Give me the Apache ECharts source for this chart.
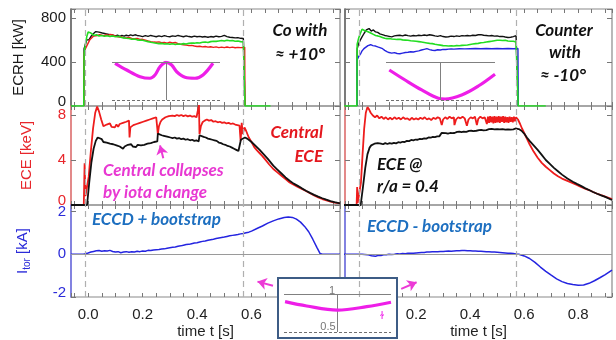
<!DOCTYPE html>
<html>
<head>
<meta charset="utf-8">
<script src="https://cdn.jsdelivr.net/npm/echarts@6.0.0/dist/echarts.min.js"></script>
<style>
  html, body { margin: 0; padding: 0; background: #fff; }
  #chart { width: 616px; height: 340px; }
</style>
</head>
<body>
<div id="chart"></div>
<script>
// ---- data: [time s, value] ----
const ecrhCoBlack = [[-0.016,0],[-0.015,520],[-0.01,560],[-0.005,600],[0.003,600],[0.01,630],[0.02,657],[0.028,675],[0.034,690],[0.04,670],[0.046,680],[0.052,662],[0.058,670],[0.064,655],[0.07,662],[0.076,650],[0.082,658],[0.088,645],[0.094,650],[0.1,636],[0.108,642],[0.116,632],[0.124,640],[0.132,634],[0.14,642],[0.148,636],[0.156,645],[0.164,638],[0.172,646],[0.18,640],[0.19,636],[0.2,630],[0.21,638],[0.22,632],[0.23,640],[0.24,634],[0.25,628],[0.26,636],[0.27,630],[0.28,638],[0.29,632],[0.3,628],[0.31,636],[0.32,632],[0.33,640],[0.34,634],[0.35,628],[0.36,636],[0.37,630],[0.38,626],[0.39,634],[0.4,628],[0.41,632],[0.42,626],[0.43,630],[0.44,624],[0.45,630],[0.46,626],[0.47,634],[0.48,628],[0.49,632],[0.5,640],[0.51,630],[0.52,624],[0.53,622],[0.54,618],[0.55,620],[0.56,614],[0.57,612],[0.575,608],[0.576,0]];
const ecrhCoRed = [[-0.016,0],[-0.015,480],[-0.01,520],[-0.005,545],[0,560],[0.006,600],[0.012,615],[0.02,635],[0.027,648],[0.034,640],[0.042,648],[0.05,642],[0.058,638],[0.066,646],[0.074,640],[0.082,650],[0.09,645],[0.098,636],[0.106,630],[0.114,625],[0.122,628],[0.13,620],[0.14,618],[0.15,622],[0.16,614],[0.17,610],[0.18,612],[0.19,604],[0.2,605],[0.21,598],[0.22,590],[0.23,584],[0.24,580],[0.25,578],[0.26,582],[0.27,574],[0.28,576],[0.29,570],[0.3,578],[0.31,572],[0.32,576],[0.33,566],[0.34,560],[0.35,556],[0.36,552],[0.37,548],[0.38,550],[0.39,544],[0.4,540],[0.41,542],[0.42,536],[0.43,540],[0.44,534],[0.45,538],[0.46,532],[0.47,536],[0.48,530],[0.49,534],[0.5,530],[0.51,535],[0.52,530],[0.53,534],[0.54,528],[0.55,532],[0.56,530],[0.575,532],[0.576,0]];
const ecrhCoGreen = [[-0.063,0],[-0.016,0],[-0.015,470],[-0.01,560],[-0.005,630],[0,672],[0.004,680],[0.01,662],[0.016,650],[0.022,640],[0.03,646],[0.04,636],[0.05,640],[0.06,632],[0.07,638],[0.08,630],[0.09,636],[0.1,628],[0.11,632],[0.12,624],[0.13,618],[0.14,614],[0.15,612],[0.16,606],[0.17,608],[0.18,600],[0.19,598],[0.2,596],[0.21,590],[0.22,584],[0.23,578],[0.24,574],[0.25,570],[0.26,566],[0.27,568],[0.28,562],[0.29,564],[0.3,560],[0.31,564],[0.32,558],[0.33,562],[0.34,560],[0.35,566],[0.36,562],[0.37,568],[0.38,572],[0.39,570],[0.4,574],[0.41,572],[0.42,578],[0.43,580],[0.44,576],[0.45,584],[0.46,588],[0.47,586],[0.48,590],[0.49,594],[0.5,590],[0.51,596],[0.52,592],[0.53,594],[0.54,588],[0.55,590],[0.56,584],[0.57,582],[0.575,580],[0.576,0],[0.67,0]];

const ecrhCtrBlack = [[-0.019,0],[-0.018,520],[-0.012,570],[-0.006,600],[0,627],[0.008,660],[0.016,690],[0.026,703],[0.034,680],[0.042,690],[0.05,672],[0.058,668],[0.066,655],[0.075,648],[0.084,640],[0.092,636],[0.1,632],[0.11,627],[0.12,636],[0.13,640],[0.14,642],[0.15,636],[0.16,644],[0.17,638],[0.18,634],[0.19,640],[0.2,636],[0.21,642],[0.22,638],[0.23,644],[0.24,640],[0.25,646],[0.26,642],[0.27,636],[0.28,632],[0.29,638],[0.3,630],[0.31,626],[0.32,628],[0.33,634],[0.34,630],[0.35,636],[0.36,632],[0.37,638],[0.38,636],[0.39,640],[0.4,636],[0.41,642],[0.42,640],[0.43,646],[0.44,648],[0.45,642],[0.46,640],[0.47,636],[0.48,640],[0.49,634],[0.5,636],[0.51,630],[0.52,632],[0.53,626],[0.54,622],[0.55,624],[0.56,630],[0.57,638],[0.577,630],[0.578,0]];
const ecrhCtrBlue = [[-0.019,0],[-0.018,420],[-0.012,450],[-0.006,470],[0,500],[0.007,520],[0.014,535],[0.022,548],[0.032,556],[0.04,548],[0.05,544],[0.058,536],[0.066,530],[0.076,520],[0.084,505],[0.092,494],[0.1,485],[0.11,480],[0.12,484],[0.13,476],[0.14,474],[0.15,480],[0.16,485],[0.17,488],[0.18,492],[0.19,490],[0.2,496],[0.21,500],[0.22,508],[0.23,514],[0.24,520],[0.25,512],[0.26,506],[0.27,504],[0.28,510],[0.29,508],[0.3,514],[0.31,512],[0.32,516],[0.33,518],[0.34,516],[0.36,520],[0.38,518],[0.4,520],[0.42,522],[0.44,520],[0.46,522],[0.48,520],[0.5,522],[0.52,520],[0.54,522],[0.56,520],[0.577,522],[0.578,0]];
const ecrhCtrGreen = [[-0.067,0],[-0.019,0],[-0.018,560],[-0.012,620],[-0.006,660],[0,697],[0.006,690],[0.012,680],[0.02,676],[0.026,672],[0.034,660],[0.042,650],[0.05,640],[0.058,636],[0.066,630],[0.075,622],[0.084,614],[0.092,611],[0.1,612],[0.11,608],[0.12,606],[0.13,604],[0.14,605],[0.15,600],[0.16,598],[0.17,596],[0.18,592],[0.19,590],[0.2,587],[0.21,584],[0.22,580],[0.23,576],[0.24,572],[0.25,568],[0.26,566],[0.27,560],[0.28,556],[0.29,552],[0.3,548],[0.31,546],[0.32,544],[0.33,546],[0.34,545],[0.35,548],[0.36,546],[0.37,550],[0.38,551],[0.39,554],[0.4,558],[0.41,562],[0.42,566],[0.43,568],[0.44,574],[0.45,576],[0.46,580],[0.47,584],[0.48,588],[0.49,592],[0.5,596],[0.51,597],[0.52,594],[0.53,596],[0.54,590],[0.55,588],[0.56,587],[0.57,580],[0.577,575],[0.578,0],[0.68,0]];

const eceCoRed = [[-0.063,0],[-0.016,0],[-0.013,3.7],[-0.01,0.8],[-0.004,0.8],[0.002,2.5],[0.01,4.8],[0.018,6.8],[0.026,8.2],[0.033,8.75],[0.04,8.3],[0.048,7.6],[0.056,7.0],[0.062,6.85],[0.068,7.15],[0.074,7.0],[0.08,7.25],[0.086,6.95],[0.092,7.1],[0.098,6.9],[0.104,7.15],[0.11,6.95],[0.116,7.2],[0.122,7.1],[0.128,7.3],[0.134,7.2],[0.14,7.4],[0.146,7.35],[0.15,7.5],[0.152,6.0],[0.155,6.9],[0.16,7.0],[0.166,7.1],[0.172,7.05],[0.178,7.2],[0.184,7.15],[0.19,7.3],[0.196,7.25],[0.202,7.4],[0.208,7.35],[0.214,7.5],[0.22,7.45],[0.226,7.6],[0.232,7.55],[0.238,7.7],[0.244,7.65],[0.25,7.8],[0.254,7.75],[0.256,6.3],[0.26,7.0],[0.266,7.4],[0.272,7.6],[0.278,7.7],[0.284,7.8],[0.29,7.75],[0.296,7.9],[0.302,7.85],[0.31,7.95],[0.318,7.9],[0.326,8.0],[0.334,7.92],[0.342,8.0],[0.35,7.9],[0.358,7.98],[0.366,7.88],[0.374,7.95],[0.382,7.85],[0.39,7.9],[0.398,7.8],[0.405,7.85],[0.407,8.9],[0.409,6.3],[0.414,7.0],[0.42,7.35],[0.428,7.5],[0.436,7.6],[0.444,7.5],[0.452,7.55],[0.46,7.4],[0.468,7.45],[0.476,7.35],[0.484,7.4],[0.492,7.3],[0.5,7.35],[0.508,7.25],[0.516,7.3],[0.524,7.2],[0.532,7.25],[0.54,7.15],[0.548,7.1],[0.556,7.05],[0.56,5.7],[0.564,7.3],[0.568,6.3],[0.574,6.9],[0.58,6.6],[0.59,6.0],[0.6,5.6],[0.61,5.15],[0.62,4.85],[0.63,4.6],[0.64,4.35],[0.65,4.05],[0.665,3.6],[0.68,3.2],[0.695,2.9],[0.71,2.6],[0.725,2.3],[0.74,2.0],[0.755,1.8],[0.77,1.6],[0.785,1.42],[0.8,1.24],[0.815,1.05],[0.83,0.85],[0.845,0.68],[0.86,0.53],[0.875,0.4],[0.89,0.3],[0.905,0.22],[0.925,0.15]];
const eceCoBlack = [[-0.063,0],[-0.004,0],[0.004,2.0],[0.012,3.8],[0.02,5.0],[0.028,5.7],[0.035,6.0],[0.042,5.9],[0.05,5.85],[0.056,5.6],[0.062,5.75],[0.068,5.55],[0.074,5.65],[0.08,5.45],[0.086,5.6],[0.092,5.4],[0.098,5.5],[0.104,5.3],[0.11,5.45],[0.116,5.2],[0.122,5.15],[0.128,5.0],[0.134,5.2],[0.14,5.05],[0.146,5.35],[0.152,5.2],[0.158,5.4],[0.164,5.2],[0.17,5.3],[0.176,5.15],[0.182,5.35],[0.188,5.25],[0.194,5.3],[0.2,5.2],[0.206,5.35],[0.212,5.3],[0.218,5.45],[0.224,5.35],[0.23,5.5],[0.236,5.45],[0.242,5.6],[0.248,5.55],[0.254,5.65],[0.256,6.35],[0.262,6.3],[0.27,6.2],[0.278,6.15],[0.286,6.1],[0.294,6.05],[0.302,6.0],[0.31,5.95],[0.318,6.0],[0.326,5.9],[0.334,5.95],[0.342,5.85],[0.35,5.9],[0.358,5.8],[0.366,5.85],[0.374,5.75],[0.382,5.8],[0.39,5.7],[0.398,5.75],[0.406,5.65],[0.409,6.2],[0.416,6.15],[0.424,6.05],[0.432,6.0],[0.44,5.9],[0.448,5.85],[0.456,5.8],[0.464,5.75],[0.472,5.7],[0.48,5.55],[0.488,5.5],[0.496,5.4],[0.504,5.35],[0.512,5.25],[0.52,5.2],[0.528,5.1],[0.536,5.0],[0.544,4.9],[0.552,4.8],[0.558,4.7],[0.561,5.8],[0.568,5.9],[0.576,6.0],[0.584,5.9],[0.592,5.75],[0.6,5.6],[0.615,5.25],[0.63,4.9],[0.645,4.5],[0.66,4.1],[0.68,3.5],[0.695,3.15],[0.71,2.8],[0.725,2.45],[0.74,2.15],[0.755,1.9],[0.77,1.7],[0.785,1.48],[0.8,1.27],[0.815,1.08],[0.83,0.9],[0.845,0.74],[0.86,0.6],[0.875,0.47],[0.89,0.35],[0.905,0.25],[0.925,0.15]];

const eceCtrRed = [[-0.067,0],[-0.02,0],[-0.018,1.6],[-0.016,0.2],[-0.01,0.2],[-0.004,2.0],[0.002,4.5],[0.008,6.8],[0.014,8.2],[0.02,8.7],[0.026,8.5],[0.032,8.2],[0.04,7.95],[0.048,7.8],[0.056,7.95],[0.064,7.7],[0.072,7.85],[0.08,7.65],[0.088,7.8],[0.096,7.6],[0.104,7.75],[0.112,7.6],[0.12,7.8],[0.128,7.65],[0.136,7.75],[0.144,7.6],[0.152,7.8],[0.16,7.65],[0.168,7.7],[0.176,7.55],[0.184,7.75],[0.192,7.6],[0.2,7.7],[0.208,7.6],[0.216,7.75],[0.224,7.65],[0.232,7.8],[0.24,7.6],[0.248,7.7],[0.256,7.55],[0.264,7.75],[0.272,7.65],[0.28,7.8],[0.288,7.7],[0.293,7.75],[0.295,7.1],[0.3,7.6],[0.308,7.8],[0.316,7.65],[0.324,7.85],[0.332,7.7],[0.34,7.8],[0.342,7.1],[0.348,7.6],[0.356,7.8],[0.364,7.7],[0.372,7.85],[0.38,7.7],[0.386,7.8],[0.388,7.05],[0.394,7.6],[0.402,7.8],[0.41,7.7],[0.418,7.85],[0.423,7.75],[0.425,7.1],[0.43,7.65],[0.438,7.85],[0.446,7.7],[0.454,7.8],[0.46,7.75],[0.462,7.2],[0.466,7.85],[0.47,7.3],[0.474,7.9],[0.478,7.35],[0.482,7.85],[0.486,7.25],[0.49,7.9],[0.494,7.3],[0.498,7.85],[0.502,7.35],[0.506,7.9],[0.51,7.3],[0.514,7.85],[0.518,7.4],[0.522,7.9],[0.526,7.3],[0.53,7.85],[0.534,7.35],[0.538,7.8],[0.542,7.3],[0.546,7.85],[0.55,7.4],[0.554,7.8],[0.558,7.35],[0.562,7.85],[0.566,7.45],[0.57,7.8],[0.577,7.6],[0.585,7.2],[0.592,6.8],[0.6,6.4],[0.61,5.9],[0.62,5.4],[0.635,4.75],[0.65,4.2],[0.665,3.75],[0.68,3.4],[0.695,3.1],[0.71,2.8],[0.725,2.55],[0.74,2.35],[0.76,2.15],[0.78,1.95],[0.795,1.78],[0.81,1.6],[0.825,1.46],[0.84,1.33],[0.855,1.16],[0.87,1.0],[0.885,0.87],[0.9,0.75],[0.925,0.53]];
const eceCtrBlack = [[-0.067,0],[-0.005,0],[0.003,1.5],[0.012,3.3],[0.02,4.5],[0.028,5.1],[0.034,5.3],[0.04,5.2],[0.046,5.45],[0.052,5.3],[0.058,5.5],[0.064,5.35],[0.07,5.45],[0.078,5.4],[0.086,5.5],[0.094,5.42],[0.102,5.5],[0.11,5.45],[0.118,5.52],[0.126,5.48],[0.134,5.58],[0.142,5.55],[0.15,5.62],[0.158,5.6],[0.166,5.7],[0.174,5.68],[0.182,5.78],[0.19,5.75],[0.198,5.82],[0.206,5.8],[0.214,5.88],[0.222,5.86],[0.23,5.92],[0.238,5.9],[0.246,6.0],[0.254,5.98],[0.262,6.05],[0.27,6.04],[0.278,6.1],[0.286,6.1],[0.293,6.15],[0.295,6.42],[0.302,6.36],[0.31,6.38],[0.318,6.34],[0.326,6.4],[0.334,6.38],[0.342,6.4],[0.344,6.55],[0.352,6.5],[0.36,6.52],[0.368,6.48],[0.376,6.52],[0.386,6.5],[0.388,6.62],[0.396,6.58],[0.404,6.6],[0.412,6.56],[0.423,6.6],[0.425,6.7],[0.433,6.65],[0.441,6.68],[0.449,6.64],[0.46,6.66],[0.462,6.78],[0.47,6.74],[0.48,6.76],[0.49,6.72],[0.5,6.75],[0.51,6.72],[0.52,6.74],[0.53,6.7],[0.54,6.72],[0.55,6.7],[0.56,6.72],[0.568,6.8],[0.574,6.9],[0.58,6.75],[0.59,6.6],[0.6,6.35],[0.61,6.0],[0.62,5.7],[0.635,5.3],[0.65,4.9],[0.665,4.45],[0.68,4.0],[0.695,3.65],[0.71,3.3],[0.725,3.0],[0.74,2.7],[0.76,2.35],[0.78,2.07],[0.795,1.88],[0.81,1.7],[0.825,1.5],[0.84,1.33],[0.855,1.16],[0.87,1.0],[0.885,0.85],[0.9,0.72],[0.925,0.44]];

const itorCo = [[-0.063,0],[-0.017,0],[-0.01,0.02],[0,0.06],[0.01,0.1],[0.02,0.13],[0.03,0.16],[0.04,0.17],[0.05,0.14],[0.06,0.16],[0.07,0.15],[0.08,0.18],[0.09,0.13],[0.1,0.1],[0.11,0.12],[0.12,0.07],[0.13,0.1],[0.14,0.12],[0.15,0.09],[0.16,0.11],[0.17,0.1],[0.18,0.14],[0.19,0.12],[0.2,0.15],[0.21,0.14],[0.22,0.18],[0.23,0.17],[0.24,0.2],[0.25,0.21],[0.26,0.22],[0.27,0.24],[0.28,0.25],[0.29,0.28],[0.3,0.3],[0.31,0.32],[0.32,0.34],[0.33,0.37],[0.34,0.39],[0.35,0.42],[0.36,0.45],[0.37,0.46],[0.38,0.49],[0.39,0.52],[0.4,0.54],[0.41,0.57],[0.42,0.6],[0.43,0.62],[0.44,0.65],[0.45,0.68],[0.46,0.7],[0.47,0.73],[0.48,0.76],[0.49,0.78],[0.5,0.8],[0.51,0.83],[0.52,0.86],[0.53,0.88],[0.54,0.9],[0.55,0.92],[0.56,0.95],[0.57,0.97],[0.58,1.0],[0.59,1.03],[0.6,1.08],[0.62,1.2],[0.64,1.32],[0.66,1.45],[0.68,1.56],[0.7,1.65],[0.72,1.72],[0.735,1.74],[0.75,1.72],[0.765,1.64],[0.78,1.5],[0.795,1.3],[0.81,1.05],[0.825,0.7],[0.84,0.32],[0.852,0.03],[0.86,0],[0.925,0]];
const itorCtr = [[-0.067,0],[0,0],[0.02,-0.02],[0.035,-0.07],[0.05,-0.1],[0.06,-0.05],[0.07,-0.06],[0.08,-0.03],[0.09,-0.02],[0.1,0],[0.11,-0.01],[0.12,0],[0.13,0.02],[0.14,0.01],[0.15,0.03],[0.16,0.02],[0.17,0.04],[0.18,0.05],[0.19,0.04],[0.2,0.06],[0.21,0.07],[0.22,0.08],[0.23,0.08],[0.24,0.1],[0.25,0.1],[0.26,0.11],[0.27,0.11],[0.28,0.12],[0.29,0.13],[0.3,0.13],[0.31,0.14],[0.32,0.15],[0.33,0.14],[0.34,0.15],[0.35,0.16],[0.36,0.16],[0.37,0.17],[0.38,0.17],[0.39,0.16],[0.4,0.16],[0.41,0.15],[0.42,0.15],[0.43,0.14],[0.44,0.14],[0.45,0.13],[0.46,0.12],[0.47,0.11],[0.48,0.1],[0.49,0.1],[0.5,0.09],[0.51,0.08],[0.52,0.07],[0.53,0.06],[0.54,0.05],[0.55,0.04],[0.56,0.03],[0.57,0.01],[0.58,0],[0.6,-0.08],[0.62,-0.2],[0.64,-0.38],[0.66,-0.6],[0.68,-0.8],[0.7,-0.98],[0.72,-1.15],[0.74,-1.28],[0.76,-1.37],[0.78,-1.42],[0.8,-1.45],[0.82,-1.44],[0.84,-1.36],[0.86,-1.24],[0.88,-1.1],[0.9,-0.95],[0.925,-0.74]];

// iota profile sketches: normalized radius and iota
const insetCoR = [-0.944,-0.728,-0.48,-0.296,-0.204,-0.111,0,0.105,0.198,0.352,0.537,0.685,0.87];
const insetCoIota = [0.983,0.895,0.807,0.786,0.829,0.938,0.996,0.96,0.872,0.799,0.786,0.829,0.983];
const insetCtrR = [-0.94,-0.65,-0.345,-0.04,0.083,0.389,0.694,1.0];
const insetCtrIota = [0.895,0.763,0.632,0.522,0.513,0.566,0.684,0.84];
const insetEccdR = [-0.98,-0.576,0,0.546,1.0];
const insetEccdIota = [0.899,0.842,0.789,0.833,0.891];

const ecrhOn = -0.015, ecrhOff = 0.575;
const xTickLabels = [0, 0.2, 0.4, 0.6, 0.8];

// ---- layout ----
const T_MIN = -0.063, T_MAX = 0.925;
const AXIS_FONT = 'Liberation Sans';
const NOTE_FONT = 'Lato';
const COLS = [{ left: 71, right: 276 }, { left: 345, right: 4 }];
const ROWS = [
  { top: 9, height: 97, min: 0, max: 880, step: 400, color: '#1a1a1a', line: '#666', name: 'ECRH [kW]', gap: 45 },
  { top: 106, height: 99, min: 0, max: 8.8, step: 4, color: '#e8262b', line: '#f07a7a', name: 'ECE [keV]', gap: 37 },
  { top: 205, height: 95, min: -2, max: 2.3, step: 2, color: '#2b2bd9', line: '#7070ee', name: 'I{s|tor} [kA]', gap: 39 }
];

const grid = [], xAxis = [], yAxis = [];
ROWS.forEach((row, r) => {
  COLS.forEach((col, c) => {
    const g = grid.length;
    grid.push({ left: col.left, right: col.right, top: row.top, height: row.height,
      show: true, borderColor: '#8a8a8a', borderWidth: 1.2 });
    ['bottom', 'top'].forEach(pos => {
      xAxis.push({
        gridIndex: g, type: 'value', position: pos, min: T_MIN, max: T_MAX,
        minInterval: 0.05, maxInterval: 0.05,
        axisLine: { show: false, onZero: false },
        axisTick: { show: true, inside: true, length: 4, lineStyle: { color: '#777' } },
        splitLine: { show: false },
        axisLabel: {
          show: pos === 'bottom' && r === 2, fontSize: 15, fontFamily: AXIS_FONT, color: '#222', margin: 10,
          formatter: v => xTickLabels.some(t => Math.abs(t - v) < 1e-6) ? v.toFixed(1) : ''
        },
        name: pos === 'bottom' && r === 2 ? 'time t [s]' : '',
        nameLocation: 'middle', nameGap: 27,
        nameTextStyle: { fontSize: 15, fontFamily: AXIS_FONT, color: '#222' }
      });
    });
    ['left', 'right'].forEach(pos => {
      yAxis.push({
        gridIndex: g, type: 'value', position: pos, min: row.min, max: row.max, interval: row.step,
        axisLine: { show: pos === 'left', onZero: false, lineStyle: { color: row.line, width: 1.5 } },
        axisTick: { show: true, inside: true, length: 5, lineStyle: { color: '#777' } },
        splitLine: { show: false },
        axisLabel: {
          show: pos === 'left' && c === 0, fontSize: 15, fontFamily: AXIS_FONT, color: row.color, margin: 5,
          formatter: v => {
            if (Math.abs(v / row.step - Math.round(v / row.step)) > 1e-6) return '';
            return v === row.min ? '{lo|' + v + '}' : String(v);
          },
          rich: { lo: { fontSize: 15, fontFamily: AXIS_FONT, color: row.color, padding: [0, 0, 8, 0] } }
        },
        name: pos === 'left' && c === 0 ? row.name : '',
        nameLocation: 'middle', nameGap: row.gap, nameRotate: 90,
        nameTextStyle: {
          fontSize: 15, fontFamily: AXIS_FONT, color: row.color,
          rich: { s: { fontSize: 10, fontFamily: AXIS_FONT, color: row.color, padding: [8, 0, 0, 0] } }
        }
      });
    });
  });
});

// inset grids for the iota profiles
const INSETS = [
  { left: 112, top: 62, width: 108, height: 38 },
  { left: 386, top: 62, width: 109, height: 38 },
  { left: 284, top: 294, width: 107, height: 38 }
];
INSETS.forEach(box => {
  const g = grid.length;
  grid.push(Object.assign({ show: false }, box));
  xAxis.push({ gridIndex: g, type: 'value', min: -1, max: 1, show: false });
  yAxis.push({ gridIndex: g, type: 'value', min: 0.5, max: 1, show: false });
});

const dashStyle = { type: [6, 4], color: '#b0b0b0', width: 1.2 };
function pulseLines(extra) {
  return {
    silent: true, symbol: 'none', label: { show: false }, animation: false,
    data: [
      { xAxis: ecrhOn, lineStyle: dashStyle },
      { xAxis: ecrhOff, lineStyle: dashStyle }
    ].concat(extra || [])
  };
}
function arrow(from, to) {
  return [
    { coord: from, symbol: 'none', lineStyle: { color: '#ec3ad6', width: 2, type: 'solid' } },
    { coord: to, symbol: 'arrow', symbolSize: 9 }
  ];
}
const zeroLine = { yAxis: 0, lineStyle: { color: '#9a9a9a', width: 1.2, type: 'solid' } };

function trace(g, data, color, width, markLine) {
  const s = {
    type: 'line', xAxisIndex: 2 * g, yAxisIndex: 2 * g, data: data,
    showSymbol: false, symbol: 'none', z: 1,
    lineStyle: { color: color, width: width }, itemStyle: { color: color }
  };
  if (markLine) s.markLine = markLine;
  return s;
}
function profile(i, rs, iotas) {
  return {
    type: 'line', xAxisIndex: 12 + i, yAxisIndex: 12 + i, z: i === 2 ? 5 : 1,
    data: rs.map((rv, k) => [rv, iotas[k]]), smooth: 0.35, showSymbol: false, symbol: 'none',
    lineStyle: { color: '#ee1ee8', width: 3.2 },
    markLine: {
      silent: true, symbol: 'none', label: { show: false }, animation: false,
      data: [
        { yAxis: 1, lineStyle: { color: '#808080', width: 1, type: 'solid' } },
        { yAxis: 0.5, lineStyle: { color: '#707070', width: 1, type: [3, 2] } },
        { xAxis: 0, lineStyle: { color: '#808080', width: 1, type: 'solid' } }
      ]
    }
  };
}

const series = [
  trace(0, ecrhCoBlack, '#111', 1.4, pulseLines()),
  trace(0, ecrhCoRed, '#ee1c1c', 1.4),
  trace(0, ecrhCoGreen, '#22dd22', 1.6),
  trace(1, ecrhCtrBlack, '#111', 1.4, pulseLines()),
  trace(1, ecrhCtrBlue, '#2424e0', 1.4),
  trace(1, ecrhCtrGreen, '#22dd22', 1.6),
  trace(2, eceCoRed, '#ee1c1c', 1.8, pulseLines()),
  trace(2, eceCoBlack, '#111', 1.8, {
    silent: true, symbol: 'none', label: { show: false }, animation: false,
    data: [arrow([0.276, 4.15], [0.264, 5.3])]
  }),
  trace(3, eceCtrRed, '#ee1c1c', 1.8, pulseLines()),
  trace(3, eceCtrBlack, '#111', 1.8),
  trace(4, itorCo, '#2424e0', 1.5, pulseLines([zeroLine, arrow([0.679, -1.47], [0.622, -1.28])])),
  trace(5, itorCtr, '#2424e0', 1.5, pulseLines([zeroLine, arrow([0.145, -1.62], [0.202, -1.31])])),
  profile(0, insetCoR, insetCoIota),
  profile(1, insetCtrR, insetCtrIota),
  profile(2, insetEccdR, insetEccdIota)
];

function note(x, y, text, color, align) {
  return {
    type: 'text', x: x, y: y, z: 6,
    style: { text: text, fill: color, font: 'italic bold 17px ' + NOTE_FONT,
      textAlign: align || 'left', textVerticalAlign: 'middle' }
  };
}
const RED = '#e4171e', MAG = '#e838d2', BLUE = '#1d6fc0', INK = '#111';

const chart = echarts.init(document.getElementById('chart'));
chart.setOption({
  animation: false,
  grid: grid, xAxis: xAxis, yAxis: yAxis, series: series,
  graphic: [
    { type: 'rect', z: 3, shape: { x: 278, y: 278, width: 119, height: 60 },
      style: { fill: '#fff', stroke: '#3d5c85', lineWidth: 2 } },
    { type: 'text', x: 332, y: 291, z: 6, style: { text: '1', fill: '#777', font: '11px ' + AXIS_FONT, textAlign: 'center', textVerticalAlign: 'middle' } },
    { type: 'text', x: 328, y: 327, z: 6, style: { text: '0.5', fill: '#777', font: '11px ' + AXIS_FONT, textAlign: 'center', textVerticalAlign: 'middle' } },
    { type: 'text', x: 382, y: 316, z: 6, style: { text: 'ɫ', fill: '#ee1ee8', font: '11px ' + AXIS_FONT, textAlign: 'center', textVerticalAlign: 'middle' } },
    note(300, 31, 'Co with', INK, 'center'),
    note(300, 55, '≈ +10°', INK, 'center'),
    note(564, 31, 'Counter', INK, 'center'),
    note(565, 53, 'with', INK, 'center'),
    note(563, 76, '≈ -10°', INK, 'center'),
    note(323, 133, 'Central', RED, 'right'),
    note(323, 157, 'ECE', RED, 'right'),
    note(103, 171, 'Central collapses', MAG),
    note(103, 193, 'by iota change', MAG),
    note(377, 165, 'ECE @', INK),
    note(377, 187, 'r/a = 0.4', INK),
    note(92, 220, 'ECCD + bootstrap', BLUE),
    note(367, 227, 'ECCD - bootstrap', BLUE)
  ]
});
</script>
</body>
</html>
